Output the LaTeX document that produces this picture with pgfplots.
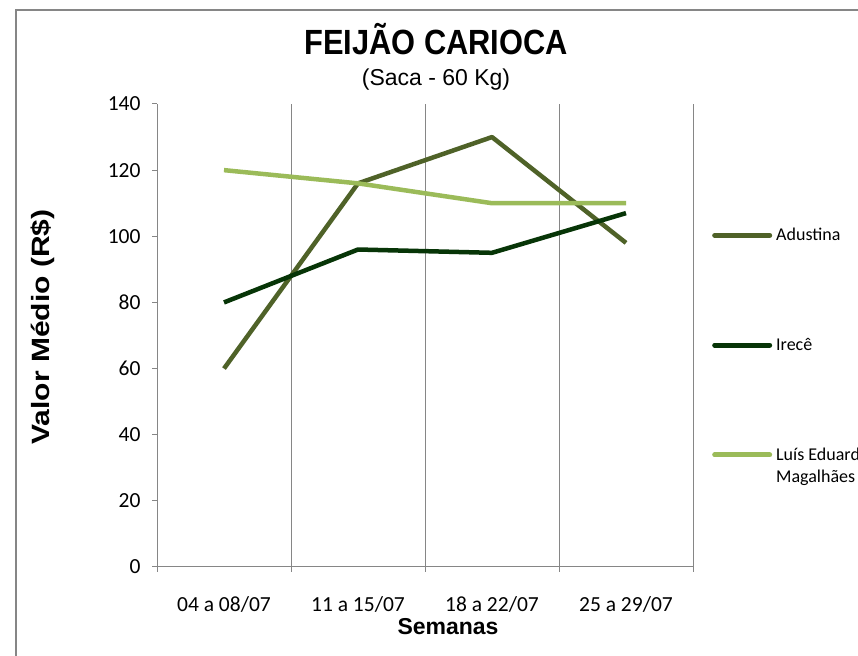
\documentclass[border=0pt]{standalone}
\usepackage{pgfplots}
\pgfplotsset{compat=1.18}
\usepackage{fontspec}
\setmainfont{Carlito}
\newfontfamily\arialf{Liberation Sans}
\definecolor{cAdu}{HTML}{4F6228}
\definecolor{cIre}{HTML}{073507}
\definecolor{cLuis}{HTML}{9BBB59}
\definecolor{cGrid}{HTML}{868686}
\begin{document}
\begin{tikzpicture}[x=1pt,y=1pt]
\path[use as bounding box, fill=white] (0,0) rectangle (858,655);
\clip (0,0) rectangle (858,655);
\draw[cGrid, line width=1.5pt] (16,-10) rectangle (880,645);
\begin{axis}[
  at={(157pt,88pt)}, anchor=south west,
  scale only axis, width=536pt, height=463pt,
  xmin=-0.5, xmax=3.5, ymin=0, ymax=140,
  axis x line=bottom, axis y line=left,
  axis line style={-, cGrid, line width=1pt},
  xtick={-0.5,0.5,1.5,2.5,3.5}, xticklabels={},
  xmajorgrids, major grid style={cGrid, line width=1pt},
  extra x ticks={0,1,2,3},
  extra x tick labels={04 a 08/07, 11 a 15/07, 18 a 22/07, 25 a 29/07},
  extra x tick style={major tick length=0pt, grid=none},
  ytick={0,20,...,140},
  tick align=outside, major tick length=5pt,
  tick style={cGrid, line width=1pt},
  /pgf/number format/assume math mode=true,
  ticklabel style={font=\fontsize{21.5}{24}\selectfont, text=black},
  xticklabel style={yshift=-26pt},
  yticklabel style={xshift=-8pt},
  legend cell align=left,
  legend style={at={(1.0354,0.732)}, anchor=north west, draw=none, fill=none,
    inner sep=0pt, row sep=96pt, column sep=4pt,
    font=\fontsize{18}{22}\selectfont, nodes={align=left, inner sep=0pt}},
  legend image code/.code={\draw[#1, line width=5pt, line cap=round] (0pt,0pt) -- (55pt,0pt);},
]
\addplot[cAdu, line width=4.5pt, line join=round] coordinates {(0,60) (1,116) (2,130) (3,98)};
\addlegendentry{Adustina}
\addplot[cIre, line width=4.5pt, line join=round] coordinates {(0,80) (1,96) (2,95) (3,107)};
\addlegendentry{Irecê}
\addplot[cLuis, line width=4.5pt, line join=round,
  legend image code/.code={\path[draw=none] (0pt,-13.5pt) -- (0pt,13.5pt); \draw[cLuis, line width=5pt, line cap=round] (0pt,11pt) -- (55pt,11pt);}]
  coordinates {(0,120) (1,116) (2,110) (3,110)};
\addlegendentry{Luís Eduardo\\Magalhães}
\end{axis}
\node[anchor=base, inner sep=0pt] at (436,600) {\scalebox{0.88}[1]{\arialf\bfseries\fontsize{35}{40}\selectfont FEIJÃO CARIOCA}};
\node[anchor=base, inner sep=0pt] at (436,569) {\arialf\fontsize{23}{26}\selectfont (Saca - 60 Kg)};
\node[anchor=base, inner sep=0pt] at (448,20) {\arialf\bfseries\fontsize{23}{26}\selectfont Semanas};
\node[rotate=90, inner sep=0pt] at (43,328) {\scalebox{1.2}[1]{\arialf\bfseries\fontsize{25}{28}\selectfont Valor Médio (R\$)}};
\end{tikzpicture}
\end{document}
